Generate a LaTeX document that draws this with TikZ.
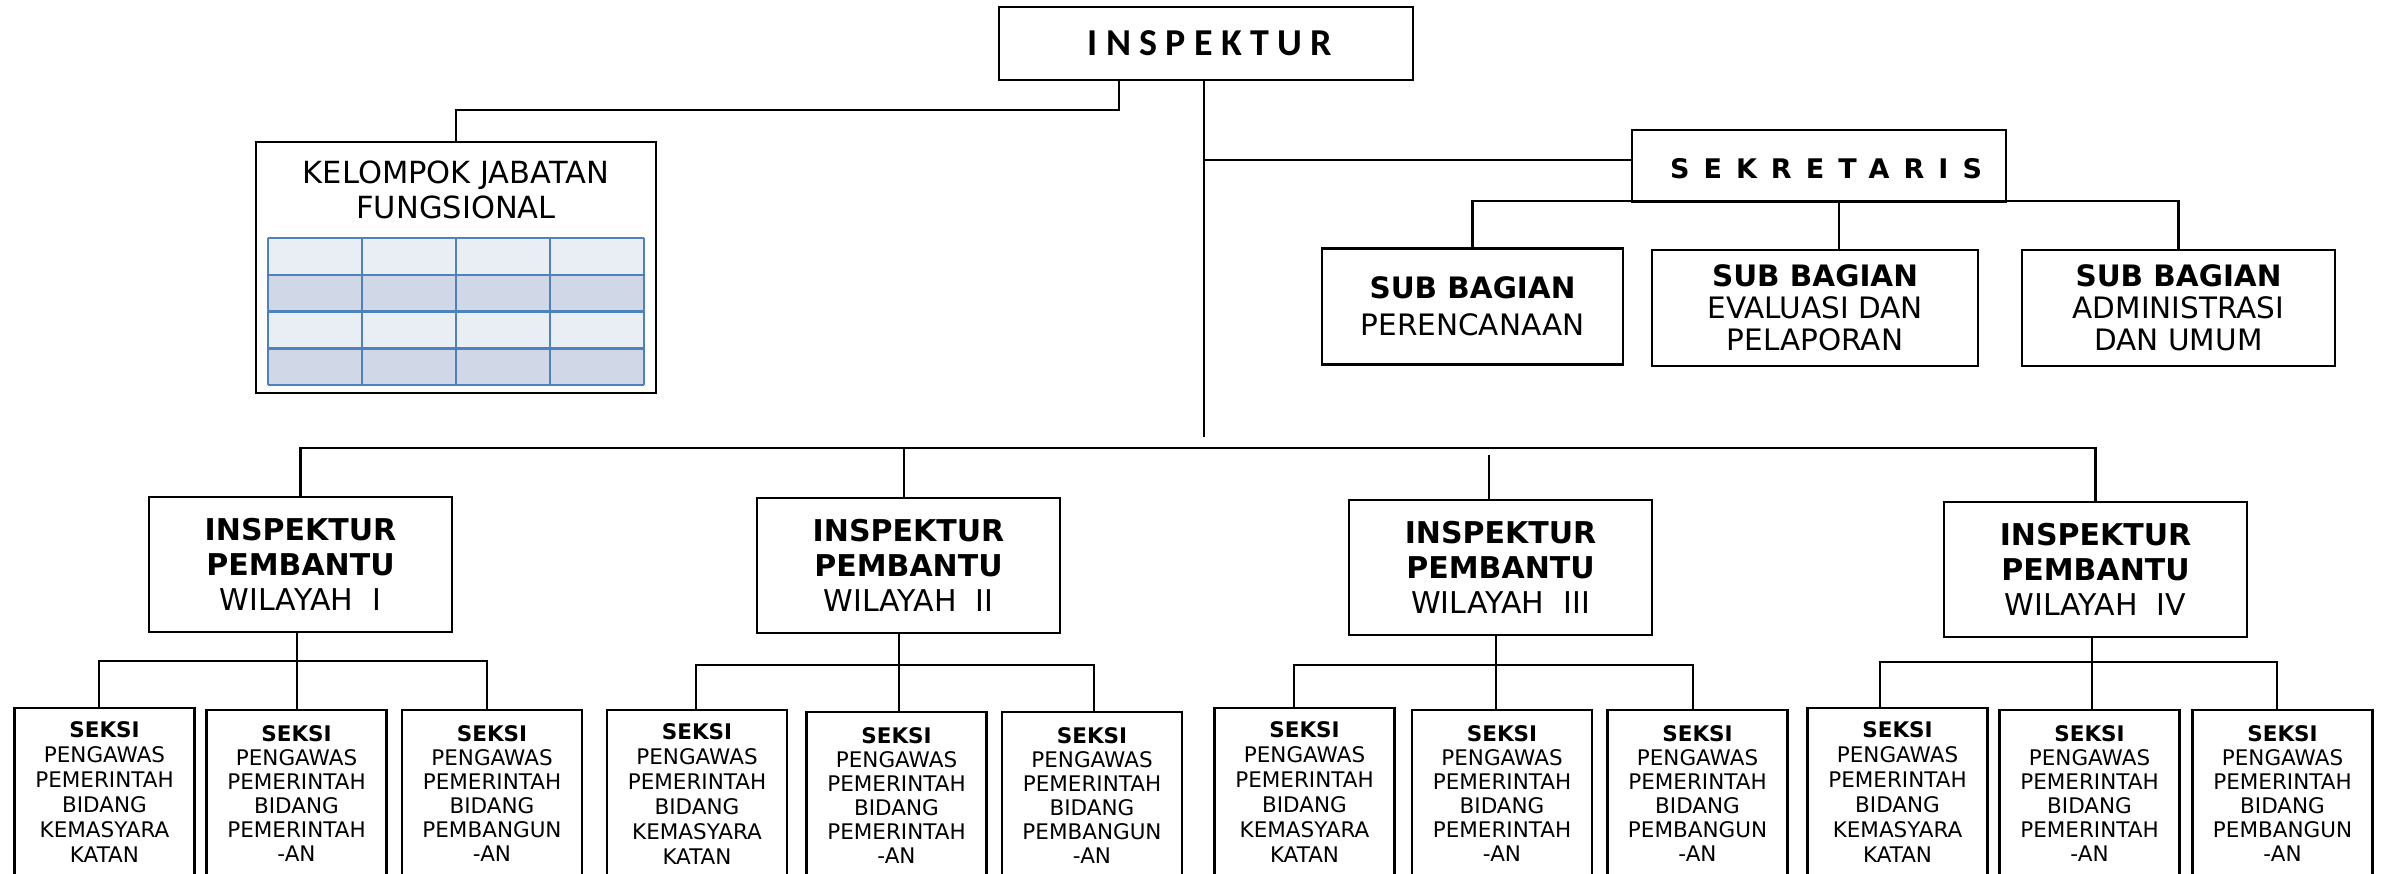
\documentclass[tikz,border=0pt]{standalone}
\usepackage{fontspec}
\setmainfont{DejaVu Sans}
\newfontfamily\calib{Carlito}
\definecolor{tabA}{HTML}{E9EDF4}
\definecolor{tabB}{HTML}{D0D8E8}
\definecolor{tabL}{HTML}{4F81BD}
\begin{document}
\begin{tikzpicture}[x=1pt,y=-1pt,
  box/.style={draw, line width=2.6pt, inner sep=0pt, align=center},
  conn/.style={line width=2.2pt},
  seksi/.style={box, minimum width=180pt, minimum height=168pt, font=\fontsize{21.5}{25}\selectfont},
  seksiB/.style={box, minimum width=180pt, minimum height=168pt, font=\fontsize{21.5}{24}\selectfont},
  ipbox/.style={box, minimum width=303pt, minimum height=135pt, font=\fontsize{30}{35}\selectfont},
  subbox/.style={box, minimum height=116pt, font=\fontsize{29.5}{32}\selectfont}]
\useasboundingbox (0,0) rectangle (2385,873);

% top
\node[box, minimum width=414pt, minimum height=73pt,
  font=\calib\bfseries\fontsize{38}{40}\selectfont\addfontfeature{LetterSpace=22}] (insp) at (1206,43.5) {\hspace*{8pt}INSPEKTUR};

% kelompok jabatan fungsional
\node[box, minimum width=400pt, minimum height=251pt] (kel) at (456,267.5) {};
\node[align=center, inner sep=0pt, font=\fontsize{30.5}{35}\selectfont] (keltext) at (456,189.5) {KELOMPOK JABATAN\\FUNGSIONAL};
\foreach \r/\c in {0/tabA,1/tabB,2/tabA,3/tabB}{
  \fill[\c] (268,238+\r*36.75) rectangle (644,238+\r*36.75+36.75);
}
\foreach \r in {0,...,4}{
  \draw[tabL, line width=2.5pt] (268,238+\r*36.75) -- (644,238+\r*36.75);
}
\foreach \xx in {268,362,456,550,644}{
  \draw[tabL, line width=1.6pt] (\xx,238) -- (\xx,385);
}

% sekretaris
\node[box, minimum width=374pt, minimum height=72pt] (sek) at (1819,166) {};
\node[inner sep=0pt, font=\bfseries\fontsize{27}{30}\selectfont\addfontfeature{LetterSpace=52}] (sektext) at (1826,169) {SEKRETARIS};
\node[subbox, minimum width=301pt, font=\fontsize{29.5}{37}\selectfont] (sub1) at (1472.5,306.5) {\textbf{SUB BAGIAN}\\PERENCANAAN};
\node[subbox, minimum width=326pt] (sub2) at (1815,308) {\textbf{SUB BAGIAN}\\EVALUASI DAN\\PELAPORAN};
\node[subbox, minimum width=313pt] (sub3) at (2178.5,308) {\textbf{SUB BAGIAN}\\ADMINISTRASI\\DAN UMUM};

% inspektur pembantu
\node[ipbox] (ip1) at (300.5,564.5) {\textbf{INSPEKTUR}\\\textbf{PEMBANTU}\\WILAYAH\ \ I};
\node[ipbox] (ip2) at (908.5,565.5) {\textbf{INSPEKTUR}\\\textbf{PEMBANTU}\\WILAYAH\ \ II};
\node[ipbox] (ip3) at (1500.5,567.5) {\textbf{INSPEKTUR}\\\textbf{PEMBANTU}\\WILAYAH\ \ III};
\node[ipbox] (ip4) at (2095.5,569.5) {\textbf{INSPEKTUR}\\\textbf{PEMBANTU}\\WILAYAH\ \ IV};

% seksi
\def\txtA{\textbf{SEKSI}\\PENGAWAS\\PEMERINTAH\\BIDANG\\KEMASYARA\\KATAN}
\def\txtB{\textbf{SEKSI}\\PENGAWAS\\PEMERINTAH\\BIDANG\\PEMERINTAH\\-AN}
\def\txtC{\textbf{SEKSI}\\PENGAWAS\\PEMERINTAH\\BIDANG\\PEMBANGUN\\-AN}
\node[seksi]  (s1)  at (104.5,792) {\txtA};
\node[seksiB] (s2)  at (296.5,794) {\txtB};
\node[seksiB] (s3)  at (492,794)   {\txtC};
\node[seksi]  (s4)  at (697,794)   {\txtA};
\node[seksiB] (s5)  at (896.5,796) {\txtB};
\node[seksiB] (s6)  at (1092,796)  {\txtC};
\node[seksi]  (s7)  at (1304.5,792) {\txtA};
\node[seksiB] (s8)  at (1502,794)  {\txtB};
\node[seksiB] (s9)  at (1697.5,794) {\txtC};
\node[seksi]  (s10) at (1897.5,792) {\txtA};
\node[seksiB] (s11) at (2089.5,794) {\txtB};
\node[seksiB] (s12) at (2282.5,794) {\txtC};

% connectors from top
\coordinate (kj) at (1119,110);
\draw[conn] (kj |- insp.south) -- (kj) -- (kj -| kel.north) -- (kel.north);
\coordinate (mainEnd) at (1204,437);
\draw[conn] (mainEnd |- insp.south) -- (mainEnd);
\coordinate (sj) at (1204,160);
\draw[conn] (sj) -- (sj -| sek.west);
\coordinate (sb) at (1839,201);
\draw[conn] (sub1.north) -- (sub1.north |- sb) -- (sub3.north |- sb) -- (sub3.north);
\draw[conn] (sb) -- (sb |- sub2.north);

% main bus
\coordinate (mb) at (1204,448);
\draw[conn] (ip1.north) -- (ip1.north |- mb) -- (ip4.north |- mb) -- (ip4.north);
\coordinate (ip2t) at (904,448);
\draw[conn] (ip2t) -- (ip2t |- ip2.north);
\coordinate (ip3t) at (1489,455);
\draw[conn] (ip3t) -- (ip3t |- ip3.north);

% groups
\foreach \ip/\a/\b/\c/\v/\yy/\l/\r in {
  ip1/s1/s2/s3/297/661/99/487,
  ip2/s4/s5/s6/899/665/696/1094,
  ip3/s7/s8/s9/1496/665/1294/1693,
  ip4/s10/s11/s12/2092/662/1880/2277}{
  \coordinate (gl) at (\l,\yy);
  \coordinate (gr) at (\r,\yy);
  \coordinate (gm) at (\v,\yy);
  \draw[conn] (gl |- \a.north) -- (gl) -- (gr) -- (gr |- \c.north);
  \draw[conn] (gm |- \ip.south) -- (gm |- \b.north);
}
\end{tikzpicture}
\end{document}
